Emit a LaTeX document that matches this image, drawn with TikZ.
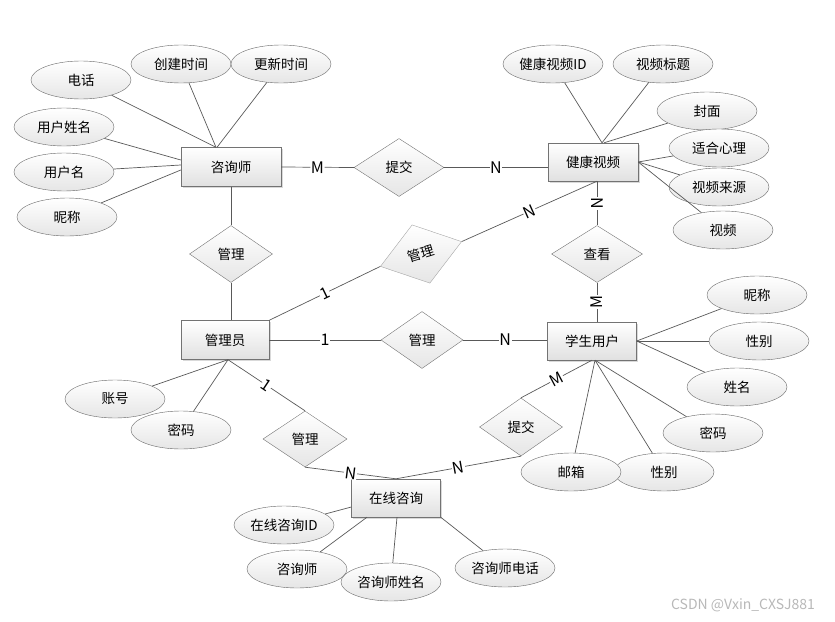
\documentclass[tikz,border=0pt]{standalone}
\usepackage{fontspec}
\setmainfont{Noto Sans CJK SC}
\usetikzlibrary{shapes.geometric,calc,shadows}

\begin{document}
\begin{tikzpicture}[x=1pt,y=-1pt,
  every node/.style={inner sep=0pt,font=\fontsize{13.5}{16}\selectfont},
  entity/.style={draw=black!55,rectangle,top color=white,bottom color=black!12,
    drop shadow={shadow xshift=1.5pt,shadow yshift=-1.5pt,opacity=0.3}},
  attr/.style={draw=black!60,ellipse,minimum width=100pt,minimum height=38pt,
    top color=white,bottom color=black!10},
  rel/.style={draw=black!55,diamond,top color=white,bottom color=black!10},
  link/.style={draw=black!65,line width=0.7pt},
  card/.style={fill=white,inner sep=0.6pt,sloped,font=\fontsize{16}{18}\selectfont}]
\useasboundingbox (0,0) rectangle (835,621);
% attributes
\node[attr] (dh) at (81,80) {电话};
\node[attr] (cjsj) at (181,64) {创建时间};
\node[attr] (gxsj) at (281,64) {更新时间};
\node[attr] (yhxm) at (64,127) {用户姓名};
\node[attr] (yhm) at (64,172) {用户名};
\node[attr] (nc1) at (67,217) {昵称};
\node[attr] (spid) at (553,64) {健康视频ID};
\node[attr] (spbt) at (663,64) {视频标题};
\node[attr] (fm) at (707,111) {封面};
\node[attr] (shxl) at (719,148) {适合心理};
\node[attr] (splx) at (719,187) {视频来源};
\node[attr] (sp) at (723,230) {视频};
\node[attr] (nc2) at (757,295) {昵称};
\node[attr] (xb1) at (759,341) {性别};
\node[attr] (xm) at (737,387) {姓名};
\node[attr] (mm2) at (713,433) {密码};
\node[attr] (xb2) at (664,472) {性别};
\node[attr] (yx) at (571,472) {邮箱};
\node[attr] (zh) at (115,399) {账号};
\node[attr] (mm1) at (181,430) {密码};
\node[attr] (zxid) at (284,525) {在线咨询ID};
\node[attr] (zxs2) at (297,569) {咨询师};
\node[attr] (zxsxm) at (391,582) {咨询师姓名};
\node[attr] (zxsdh) at (505,568) {咨询师电话};
% entities
\node[entity,minimum width=100pt,minimum height=39pt] (zxs) at (231,167) {咨询师};
\node[entity,minimum width=90pt,minimum height=38pt] (jksp) at (593,162) {健康视频};
\node[entity,minimum width=88pt,minimum height=39pt] (gly) at (225,340) {管理员};
\node[entity,minimum width=89pt,minimum height=38pt] (xsyh) at (592,341) {学生用户};
\node[entity,minimum width=89pt,minimum height=38pt] (zxzx) at (396,498) {在线咨询};
% relations
\node[rel,minimum width=90pt,minimum height=58pt] (tj1) at (399,167.5) {提交};
\node[rel,minimum width=83pt,minimum height=57pt] (gl1) at (231,254) {管理};
\node[rel,minimum width=85pt,minimum height=61pt,rotate=17,draw=black!35] (gl2) at (421,254) {管理};
\node[rel,minimum width=82pt,minimum height=57pt] (gl3) at (422,340) {管理};
\node[rel,minimum width=91pt,minimum height=57pt] (ck) at (597,254) {查看};
\node[rel,minimum width=84pt,minimum height=56pt] (gl4) at (305,439) {管理};
\node[rel,minimum width=83pt,minimum height=58pt] (tj2) at (521,427) {提交};
% attribute links
\draw[link] ($(zxs.north)+(-15,0)$) -- (dh);
\draw[link] ($(zxs.north)+(-15,0)$) -- (cjsj);
\draw[link] ($(zxs.north)+(-14,0)$) -- (gxsj);
\draw[link] ($(zxs.west)+(0,-7)$) -- (yhxm);
\draw[link] ($(zxs.west)+(0,-2)$) -- (yhm);
\draw[link] ($(zxs.west)+(0,3)$) -- (nc1);
\draw[link] ($(jksp.north)+(9,0)$) -- (spid);
\draw[link] ($(jksp.north)+(9,0)$) -- (spbt);
\draw[link] ($(jksp.north)+(11,0)$) -- (fm);
\draw[link] (jksp.east) -- (shxl);
\draw[link] (jksp.east) -- (splx);
\draw[link] (jksp.east) -- (sp);
\draw[link] (xsyh.east) -- (nc2);
\draw[link] (xsyh.east) -- (xb1);
\draw[link] (xsyh.east) -- (xm);
\draw[link] ($(xsyh.south)+(3,0)$) -- (mm2);
\draw[link] ($(xsyh.south)+(3,0)$) -- (xb2);
\draw[link] ($(xsyh.south)+(3,0)$) -- (yx);
\draw[link] ($(gly.south)+(3,0)$) -- (zh);
\draw[link] ($(gly.south)+(3,0)$) -- (mm1);
\draw[link] ($(zxzx.west)+(0,9)$) -- (zxid);
\draw[link] ($(zxzx.south)+(-29,0)$) -- (zxs2);
\draw[link] ($(zxzx.south)+(1,0)$) -- (zxsxm);
\draw[link] (zxzx.south east) -- (zxsdh);
% relation links
\draw[link] (zxs.east) -- node[card] {M} (tj1.west);
\draw[link] (tj1.east) -- node[card] {N} (tj1.east -| jksp.west);
\draw[link] (zxs.south) -- (gl1.north);
\draw[link] (gl1.south) -- (gl1.south |- gly.north);
\draw[link] (gly.north east) -- node[card] {1} (gl2.west);
\draw[link] (gl2.east) -- node[card] {N} (ck.north |- jksp.south);
\draw[link] (gly.east) -- node[card] {1} (gl3.west);
\draw[link] (gl3.east) -- node[card] {N} (gl3.east -| xsyh.west);
\draw[link] (ck.north |- jksp.south) -- node[card] {N} (ck.north);
\draw[link] (ck.south |- xsyh.north) -- node[card] {M} (ck.south);
\draw[link] ($(gly.south)+(3,0)$) -- node[card] {1} (gl4.north);
\draw[link] (gl4.south) -- node[card] {N} (zxzx.north);
\draw[link] (xsyh.south) -- node[card] {M} (tj2.north);
\draw[link] (tj2.south) -- node[card] {N} (zxzx.north);
\node[text=black!28,font=\fontsize{14}{16}\selectfont] (wm) at (743,605) {CSDN @Vxin\_CXSJ881};
\end{tikzpicture}
\end{document}
